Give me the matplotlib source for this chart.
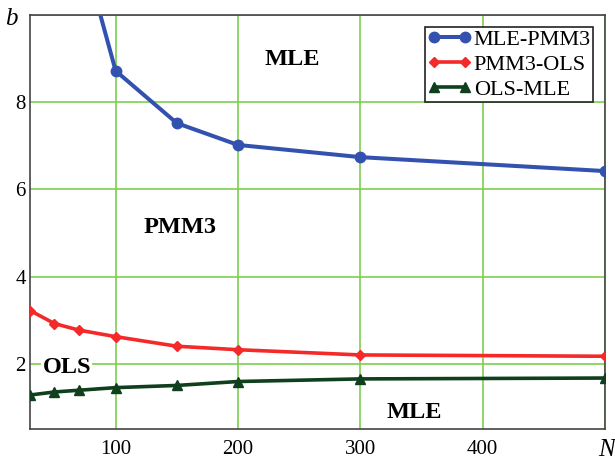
import matplotlib.pyplot as plt

# sample sizes and boundary values b(N) between estimator regions
n_blue = [70, 100, 150, 200, 300, 500]
b_mle_pmm3 = [11.8, 8.72, 7.52, 7.02, 6.74, 6.42]

n_low = [30, 50, 70, 100, 150, 200, 300, 500]
b_pmm3_ols = [3.22, 2.92, 2.77, 2.62, 2.40, 2.32, 2.20, 2.17]
b_ols_mle = [1.28, 1.35, 1.39, 1.45, 1.50, 1.59, 1.65, 1.67]

x_ticks = [100, 200, 300, 400, 500]
x_labels = ['100', '200', '300', '400', '']
y_ticks = [2, 4, 6, 8, 10]
y_labels = ['2', '4', '6', '8', '']

plt.rcParams['font.family'] = ['Liberation Serif', 'DejaVu Serif']

fig = plt.figure(figsize=(6.15, 4.63), dpi=100)
ax = fig.add_axes([0.0488, 0.0734, 0.935, 0.894])

grid_col = '#7dcf4f'
ax.plot(n_blue, b_mle_pmm3, color='#3352b0', lw=2.9, marker='o', ms=7.5,
        label='MLE-PMM3', zorder=3)
ax.plot(n_low, b_pmm3_ols, color='#f42a2a', lw=2.6, marker='D', ms=5.5,
        label='PMM3-OLS', zorder=3)
ax.plot(n_low, b_ols_mle, color='#0f3f1c', lw=2.6, marker='^', ms=6.5,
        label='OLS-MLE', zorder=3)

ax.set_xlim(30, 500)
ax.set_ylim(0.5, 10)
ax.set_xticks(x_ticks)
ax.set_xticklabels(x_labels)
ax.set_yticks(y_ticks)
ax.set_yticklabels(y_labels)
ax.tick_params(length=0, labelsize=15)
ax.tick_params(axis='x', pad=8)
ax.tick_params(axis='y', pad=3)

# axis names sit in place of the last tick labels
ax.annotate('b', xy=(0, 10), xycoords=('axes fraction', 'data'),
            xytext=(-12, -4), textcoords='offset pixels', ha='right',
            va='center', style='italic', fontsize=18)
ax.annotate('N', xy=(500, 0), xycoords=('data', 'axes fraction'),
            xytext=(1, -21), textcoords='offset pixels', ha='center',
            va='center', style='italic', fontsize=18)

ax.grid(True, color=grid_col, lw=1.2)
ax.set_axisbelow(True)
for s in ax.spines.values():
    s.set_color('#444444')
    s.set_linewidth(1.2)

# region labels
kw = dict(fontsize=17.5, fontweight='bold', ha='center', va='baseline')
ax.text(244, 8.85, 'MLE', **kw)
ax.text(153, 5.01, 'PMM3', **kw)
ax.text(60, 1.79, 'OLS', **kw,
        bbox=dict(facecolor='white', edgecolor='none', pad=1))
ax.text(344, 0.76, 'MLE', **kw)

leg = ax.legend(loc='upper right', bbox_to_anchor=(593 / 615, 1 - 27 / 463),
                bbox_transform=fig.transFigure, fontsize=16, numpoints=2,
                handlelength=2.0, handletextpad=0.1, borderpad=0.1,
                labelspacing=0.2, borderaxespad=0, fancybox=False,
                framealpha=1)
leg.get_frame().set_edgecolor('#222222')
leg.get_frame().set_linewidth(1.2)

plt.savefig('out.png', dpi=100, facecolor='white')
